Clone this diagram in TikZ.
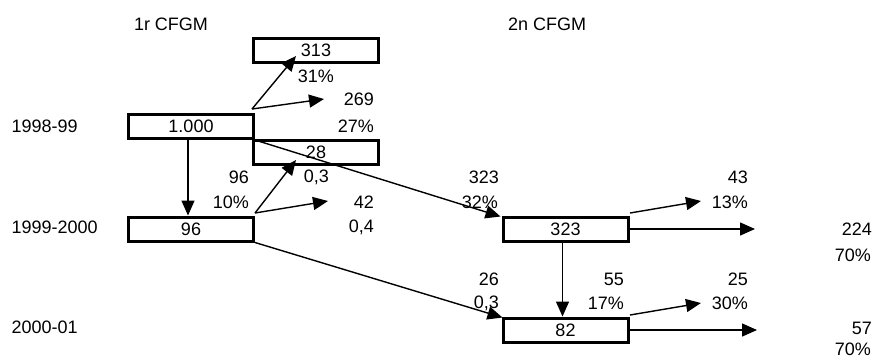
\documentclass[tikz,border=0pt]{standalone}
\usepackage{fontspec}
\setmainfont{Liberation Sans}
\usetikzlibrary{arrows.meta}
\tikzset{
  caixa/.style={draw,line width=3pt,minimum width=125pt,minimum height=24pt,inner sep=0pt},
  fletxa/.style={line width=1.4pt,-{Triangle[length=15pt,width=13pt]}}
}
\begin{document}
\begin{tikzpicture}[x=1pt,y=-1pt,font=\fontsize{18}{21}\selectfont]
\useasboundingbox (0,0) rectangle (874,360);
% capçaleres i anys
\node (cfgm1) at (171,24) {1r CFGM};
\node (cfgm2) at (547,24) {2n CFGM};
\node[anchor=west] (any1) at (8,126) {1998-99};
\node[anchor=west] (any2) at (8,227) {1999-2000};
\node[anchor=west] (any3) at (8,327) {2000-01};
% caixes
\node[caixa] (b313) at (316,50) {313};
\node[caixa] (b1000) at (191,126.5) {1.000};
\node[caixa] (b28) at (316,152) {28};
\node[caixa] (b96) at (191,229) {96};
\node[caixa] (b323) at (565.5,229) {323};
\node[caixa] (b82) at (565.5,330) {82};
% etiquetes
\foreach \nom/\x/\y/\txt in {p31/334/76/31\%,n269/374/99/269,p27/374/126/27\%,
  n96/249/177/96,p10/249/202/10\%,r03a/329/177/{0,3},n42/374/202/42,r04/374/227/{0,4},
  n323/499/177/323,p32/498/202/32\%,n43/748/177/43,p13/748/202/13\%,
  n224/872/229/224,p70a/871/255/70\%,n26/499/279/26,r03b/499/303/{0,3},
  n55/624/279/55,p17/624/303/17\%,n25/748/279/25,p30/748/303/30\%,
  n57/872/328/57,p70b/871/349/70\%}
  \node[anchor=east,inner sep=0pt] (\nom) at (\x,\y) {\txt};
% punts
\coordinate (o1) at (252,109);
\coordinate (o2) at (255,213);
\coordinate (o3) at (630,213);
\coordinate (o4) at (630,315);
\coordinate (t313) at (296,56);
\coordinate (t269) at (324,99);
\coordinate (t28) at (296,160);
\coordinate (t42) at (328,201);
\coordinate (t43) at (701,201);
\coordinate (t25) at (701,303);
\coordinate (t224) at (755,229);
\coordinate (t57) at (757,330);
% fletxes
\draw[fletxa] (o1) -- (t313);
\draw[fletxa] (o1) -- (t269);
\draw[fletxa] ([xshift=-3pt]b1000.south) -- ([xshift=-3pt]b96.north);
\draw[fletxa] (b1000.south east) -- ([shift={(-1pt,-1pt)}]b323.north west);
\draw[fletxa] (o2) -- (t28);
\draw[fletxa] (o2) -- (t42);
\draw[fletxa] (b96.south east) -- ([shift={(1pt,-1pt)}]b82.north west);
\draw[fletxa] (o3) -- (t43);
\draw[fletxa] (b323.east) -- (t224);
\draw[fletxa] ([xshift=-3pt]b323.south) -- ([xshift=-3pt]b82.north);
\draw[fletxa] (o4) -- (t25);
\draw[fletxa] (b82.east) -- (t57);
\end{tikzpicture}
\end{document}
